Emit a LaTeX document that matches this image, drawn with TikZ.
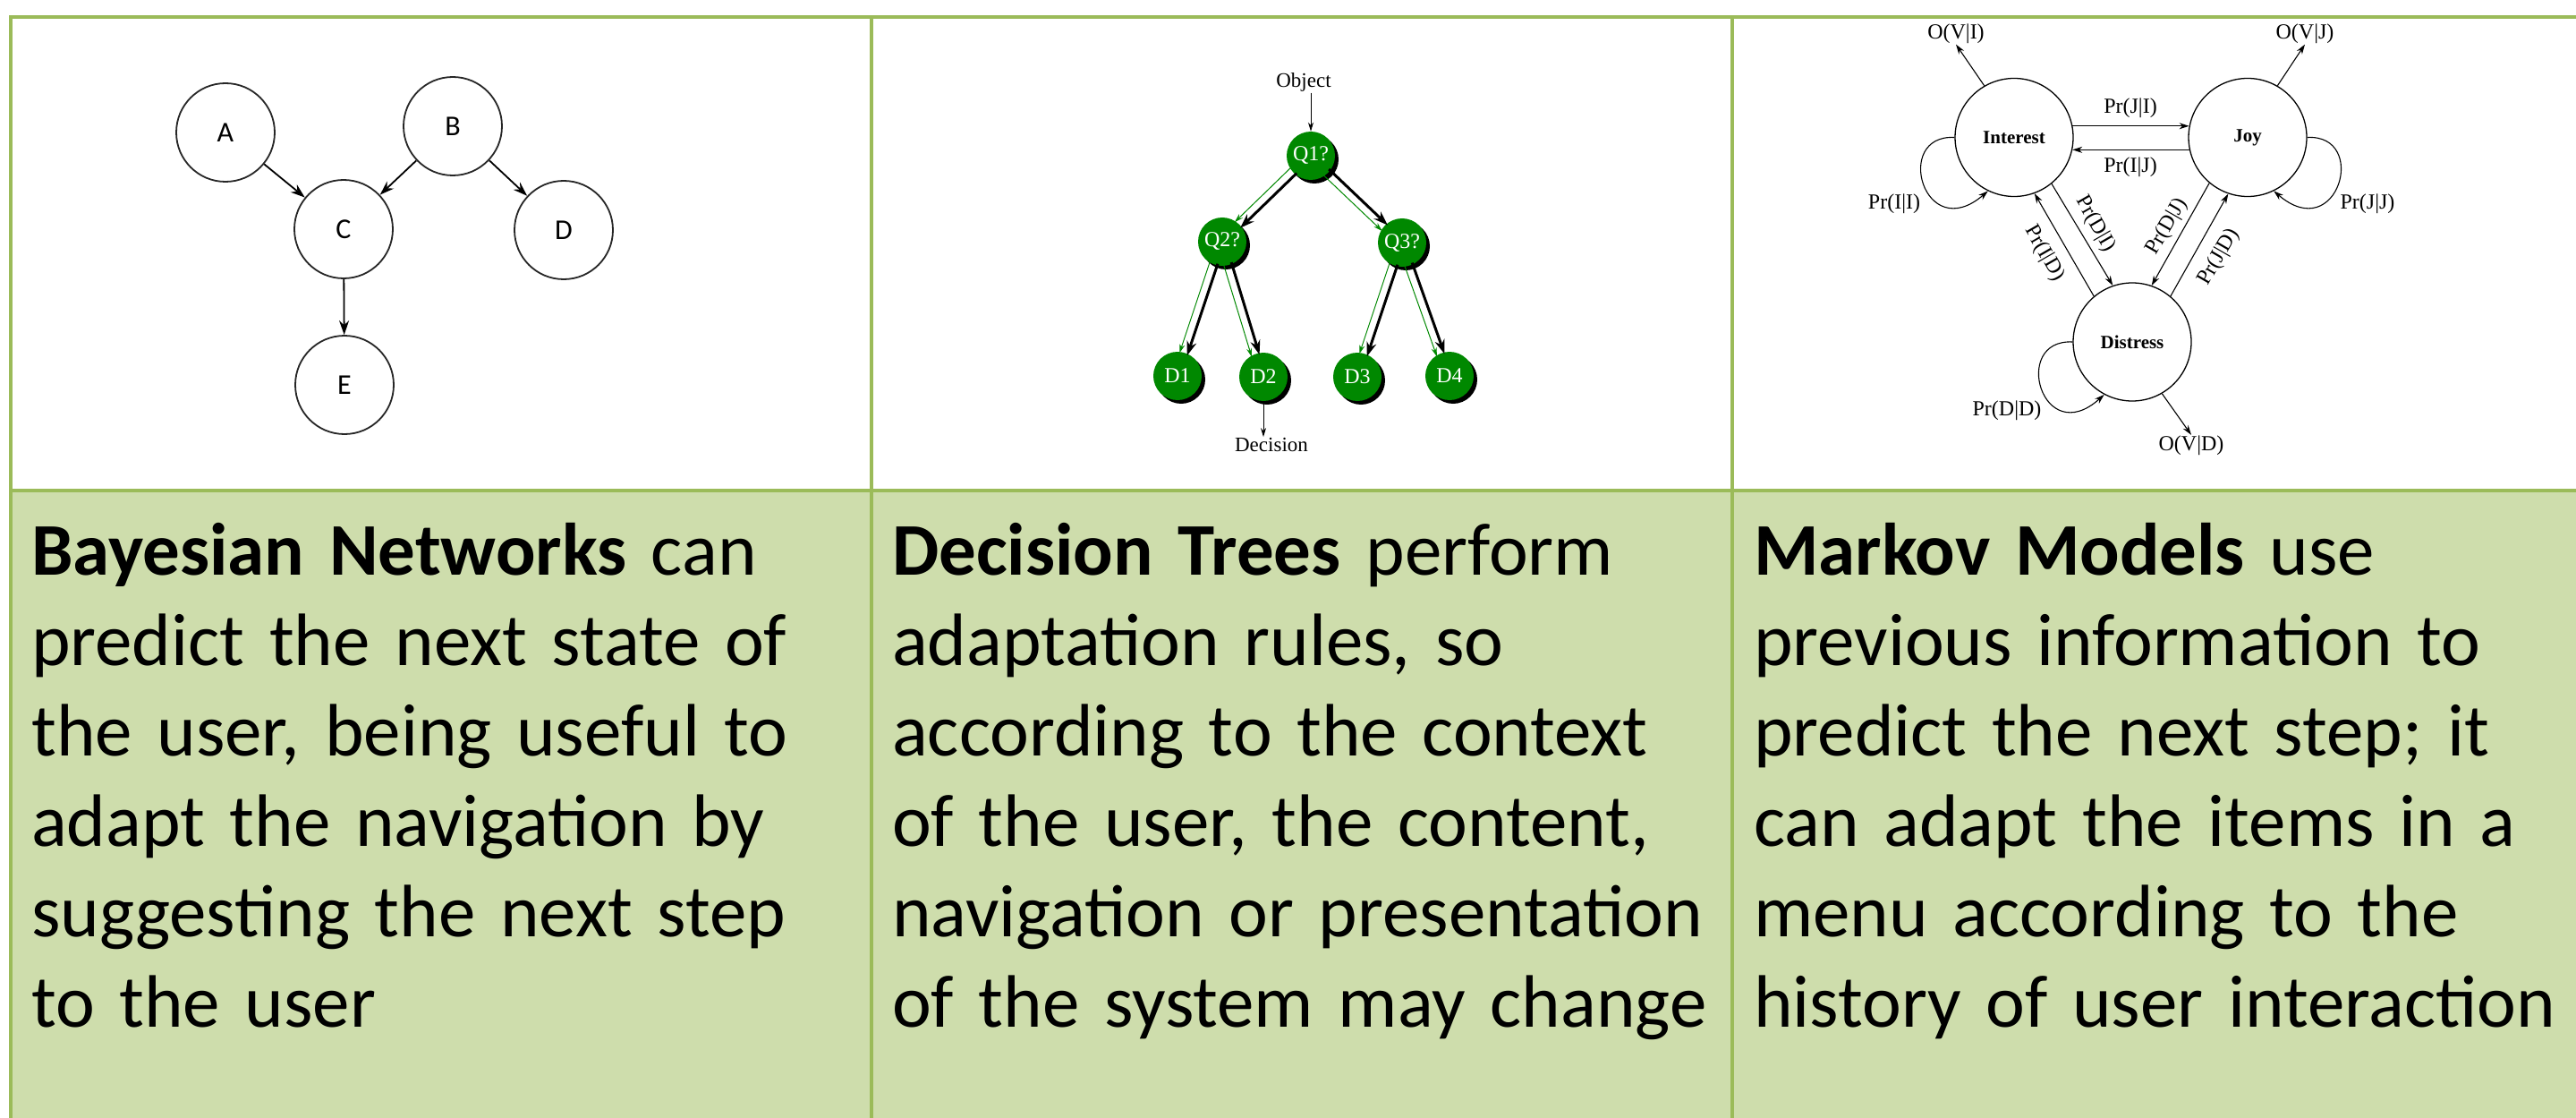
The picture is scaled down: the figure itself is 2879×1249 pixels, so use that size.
\documentclass[tikz,border=0pt]{standalone}
\usepackage{fontspec}
\setmainfont{Carlito}
\newfontfamily\serifft{Liberation Serif}
\usetikzlibrary{arrows.meta,calc,shadows}
\definecolor{tblborder}{RGB}{155,187,89}
\definecolor{bandfill}{RGB}{206,221,172}
\definecolor{dtgreen}{RGB}{0,136,0}
\begin{document}
\begin{tikzpicture}[x=1pt,y=-1pt,
  border/.style={draw=tblborder,line width=3.5pt},
  desc/.style={anchor=north west,inner sep=0pt,align=left,text width=940pt,font=\fontsize{83}{101}\selectfont},
  bnode/.style={circle,draw=black!85,line width=1.8pt,minimum size=110pt,inner sep=0pt,font=\fontsize{32}{36}\selectfont},
  barrow/.style={line width=1.8pt,-{Stealth[length=16pt,width=11pt]}},
  dnode/.style={circle,fill=dtgreen,minimum size=54pt,inner sep=0pt,text=white,font=\serifft\fontsize{24}{26}\selectfont,drop shadow={shadow xshift=4pt,shadow yshift=-4pt,fill=black,opacity=1}},
  dlab/.style={font=\serifft\fontsize{23}{26}\selectfont,inner sep=1pt},
  dthin/.style={line width=1pt,-{Stealth[length=10pt,width=6pt]}},
  dblack/.style={line width=3pt,-{Stealth[length=16pt,width=11pt]},shorten <=25pt,shorten >=25pt},
  dgreen/.style={draw=dtgreen,line width=1pt,-{Stealth[length=10pt,width=6pt]},shorten <=25pt,shorten >=25pt},
  mstate/.style={circle,draw,line width=1.3pt,minimum size=132pt,inner sep=0pt,font=\serifft\bfseries\fontsize{21}{24}\selectfont},
  mlab/.style={font=\serifft\fontsize{24}{26}\selectfont,inner sep=1pt},
  marrow/.style={line width=1.1pt,-{Stealth[length=11pt,width=7pt]}}
]
\useasboundingbox (0,0) rectangle (2879,1249);
% table
\fill[bandfill] (12,548) rectangle (2879,1249);
\draw[border] (12,1249) -- (12,19) -- (2879,19);
\draw[border] (974,19) -- (974,1249);
\draw[border] (1936,19) -- (1936,1249);
\draw[border] (12,548) -- (2879,548);

% Bayesian network
\node[bnode] (A) at (252,148) {A};
\node[bnode] (B) at (506,141) {B};
\node[bnode] (C) at (384,256) {C};
\node[bnode] (D) at (630,257) {D};
\node[bnode] (E) at (385,430) {E};
\draw[barrow] (A) -- (C);
\draw[barrow] (B) -- (C);
\draw[barrow] (B) -- (D);
\draw[barrow] (C) -- (E);

% Decision tree
\node[dlab] (obj) at (1457,92) {Object};
\node[dnode] (Q1) at (1465,174) {Q1?};
\node[dnode] (Q2) at (1366,270) {Q2?};
\node[dnode] (Q3) at (1567,271) {Q3?};
\node[dnode] (D1) at (1316,420) {D1};
\node[dnode] (D2) at (1412,421) {D2};
\node[dnode] (D3) at (1517,421) {D3};
\node[dnode] (D4) at (1620,420) {D4};
\node[dlab] (dec) at (1421,497) {Decision};
\draw[dthin] (Q1 |- obj.south) -- (Q1.north);
\draw[dthin] (D2.south) -- (D2 |- dec.north);
\foreach \p/\c in {Q1/Q2,Q1/Q3,Q2/D1,Q2/D2,Q3/D3,Q3/D4}{
  \draw[dblack] ($(\p.center)!3pt!90:(\c.center)$) -- ($(\c.center)!3pt!-90:(\p.center)$);
  \draw[dgreen] ($(\p.center)!6pt!-90:(\c.center)$) -- ($(\c.center)!6pt!90:(\p.center)$);
}

% Markov model
\node[mstate] (I) at (2251,153.5) {Interest};
\node[mstate] (J) at (2512,153.5) {Joy};
\node[mstate] (S) at (2383,382) {Distress};
\node[mlab] (ovi) at (2186,37.5) {O(V|I)};
\node[mlab] (ovj) at (2576,37.5) {O(V|J)};
\node[mlab] (ovd) at (2449,498) {O(V|D)};
\draw[marrow] (I.120) -- (ovi.south);
\draw[marrow] (J.60) -- (ovj.south);
\draw[marrow] (S.-60) -- (ovd.north);
\draw[marrow] (I.11) -- (J.169);
\draw[marrow] (J.-168) -- (I.-12);
\node[mlab] (pji) at (2381,121) {Pr(J|I)};
\node[mlab] (pij) at (2381,187) {Pr(I|J)};
\draw[marrow] (I.180) .. controls (2115,150) and (2150,275) .. (I.-116);
\draw[marrow] (J.0) .. controls (2648,150) and (2613,275) .. (J.-64);
\draw[marrow] (S.180) .. controls (2247,378.5) and (2282,503.5) .. (S.-118);
\node[mlab] (pii) at (2117,228) {Pr(I|I)};
\node[mlab] (pjj) at (2646,228) {Pr(J|J)};
\node[mlab] (pdd) at (2243,459) {Pr(D|D)};
\draw[marrow] (I.-51) -- (S.109);
\draw[marrow] (S.130) -- (I.-70);
\draw[marrow] (J.-130) -- (S.71);
\draw[marrow] (S.50) -- (J.-109);
\node[mlab,rotate=-60] (pdi) at (2342,250) {Pr(D|I)};
\node[mlab,rotate=-60] (pid) at (2285,283) {Pr(I|D)};
\node[mlab,rotate=60] (pdj) at (2422,253) {Pr(D|J)};
\node[mlab,rotate=60] (pjd) at (2480,287) {Pr(J|D)};

% descriptions
\node[desc] (t1) at (35,572) {\strut\textbf{Bayesian Networks} can\\predict the next state of\\the user, being useful to\\adapt the navigation by\\suggesting the next step\\to the user};
\node[desc] (t2) at (997,572) {\strut\textbf{Decision Trees} perform\\adaptation rules, so\\according to the context\\of the user, the content,\\navigation or presentation\\of the system may change};
\node[desc] (t3) at (1960,572) {\strut\textbf{Markov Models} use\\previous information to\\predict the next step; it\\can adapt the items in a\\menu according to the\\history of user interaction};
\end{tikzpicture}
\end{document}
